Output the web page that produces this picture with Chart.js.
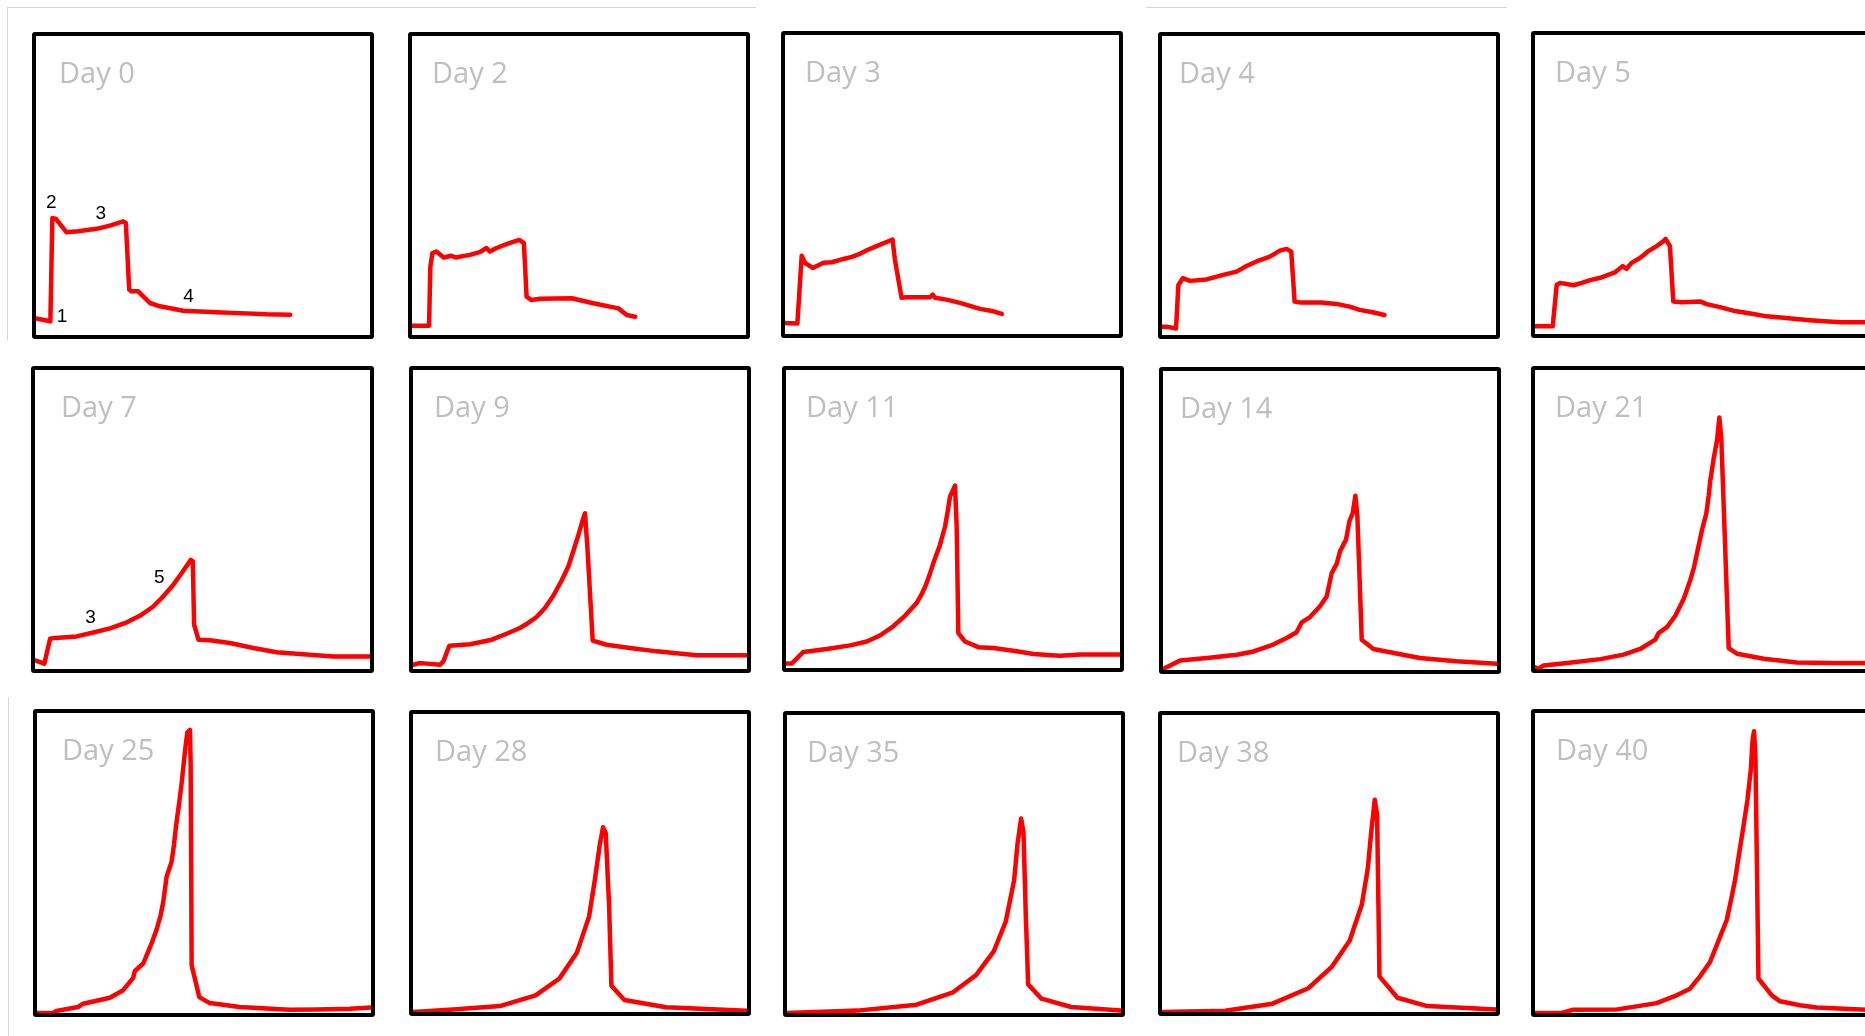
<!DOCTYPE html>
<html>
<head>
<meta charset="utf-8">
<title>Signal by day</title>
<script src="https://cdn.jsdelivr.net/npm/chart.js@4.4.0/dist/chart.umd.min.js"></script>
<style>
    html, body { margin: 0; padding: 0; background: #fff; }
    body { width: 1865px; height: 1036px; overflow: hidden; position: relative; font-family: "Open Sans", sans-serif; }
    .panel { position: absolute; box-sizing: border-box; border: 4px solid #000; border-radius: 3px; background: #fff; }
    .panel canvas { position: absolute; left: 0; top: 0; }
    .day { position: absolute; font-size: 29px; line-height: 29px; color: #bfbfbf; white-space: nowrap; }
    .mark { position: absolute; font-family: "Liberation Sans", Arial, sans-serif; font-size: 19px; line-height: 19px; color: #000; transform: translate(-50%, -50%); }
    .rule { position: absolute; background: #d6d6d6; }
</style>
</head>
<body>
<script>
// DATA: [time, signal] pairs, both on a 0-100 scale
const dayLabels = ["Day 0", "Day 2", "Day 3", "Day 4", "Day 5",
                   "Day 7", "Day 9", "Day 11", "Day 14", "Day 21",
                   "Day 25", "Day 28", "Day 35", "Day 38", "Day 40"];

const day0 = [[0,5.5],[4.3,4.6],[4.9,39.1],[5.9,38.9],[9.1,34.4],[12.6,34.7],[18.1,35.5],[22.1,36.6],[26.1,38.0],[26.9,37.5],
    [27.9,15.2],[28.6,14.6],[30.6,14.6],[34.1,10.7],[37.1,9.6],[44.1,8.1],[49.1,7.9],[54.1,7.6],[59.1,7.4],[69.1,6.9],[76.1,6.8]];
const day2 = [[0,3.1],[5.1,3.1],[5.5,22.9],[6.1,27.4],[7.3,27.9],[9.5,25.9],[11.8,26.5],[13.2,25.9],[14.8,26.3],[17.3,26.8],[20.3,27.7],
    [22.3,29.1],[23.3,27.9],[25.3,29.1],[27.3,30.0],[29.8,31.0],[32.1,31.8],[33.5,30.7],[34.3,12.8],[35.8,11.7],[38.3,12.1],
    [47.8,12.3],[54.3,10.6],[61.8,8.9],[64.3,6.7],[66.8,6.1]];
const day3 = [[0,3.7],[3.7,3.5],[5.0,26.2],[6.0,23.8],[8.3,22.1],[11.5,23.8],[14.0,24.0],[17.5,25.1],[20.0,25.8],[22.0,26.6],
    [24.5,28.0],[27.4,29.4],[30.2,30.7],[32.2,31.6],[32.9,24.9],[34.9,12.1],[36.4,12.3],[43.4,12.3],[44.2,13.2],[44.9,12.1],
    [48.4,11.5],[52.4,10.4],[58.4,8.4],[62.4,7.6],[64.9,6.7]];
const day4 = [[0,2.8],[1.4,2.8],[4.2,2.2],[4.9,16.7],[6.2,19.0],[8.4,18.1],[13.3,18.6],[18.3,20.1],[22.3,21.2],[25.3,23.1],
    [28.3,24.6],[32.3,26.2],[35.3,28.2],[37.3,28.8],[38.7,27.9],[39.7,11.2],[41.2,10.9],[47.7,10.9],[52.2,10.4],[56.2,9.5],
    [59.2,8.4],[63.1,7.6],[66.6,6.7]];
const day5 = [[0,2.6],[5.3,2.6],[6.5,16.5],[7.5,17.1],[11.5,16.3],[14.0,17.1],[16.5,18.0],[19.5,18.8],[21.5,19.6],[23.9,20.6],
    [26.2,22.7],[27.4,21.8],[28.9,23.8],[31.4,25.4],[33.9,27.7],[35.9,29.0],[38.4,31.0],[39.1,31.8],[40.4,29.4],[41.4,10.9],
    [43.9,10.6],[49.4,10.9],[51.4,10.0],[55.4,9.0],[59.4,7.8],[65.4,6.7],[69.4,5.9],[74.4,5.4],[82.3,4.6],[91.3,3.9],[100,3.9]];
const day7 = [[0,2.9],[2.8,1.8],[4.5,10.1],[6.0,10.4],[12.4,10.9],[17.4,12.2],[22.4,13.6],[27.4,15.6],[31.3,17.8],[35.3,20.9],
    [38.3,24.3],[41.3,28.2],[43.8,32.1],[46.5,36.5],[47.1,36.0],[47.5,14.8],[48.8,9.8],[52.2,9.6],[58.2,8.7],[65.2,7.0],
    [72.1,5.6],[79.1,5.0],[89.1,4.2],[100,4.2]];
const day9 = [[0,1.4],[2.1,2.0],[4.1,1.8],[8.1,1.4],[9.1,2.6],[10.9,7.8],[17.1,8.3],[23.6,9.8],[28.0,11.8],[32.0,13.7],
    [34.5,15.4],[37.0,17.4],[39.5,20.4],[42.0,24.5],[44.5,29.6],[46.5,34.3],[48.1,39.8],[49.5,44.8],[50.8,49.8],[51.5,52.1],
    [52.2,40.9],[53.8,9.5],[58.0,8.1],[65.0,7.0],[73.0,5.9],[84.9,4.6],[100,4.6]];
const day11 = [[0,1.5],[1.7,1.5],[5.2,5.4],[12.2,6.4],[19.2,7.6],[24.2,8.9],[28.1,10.9],[32.1,14.0],[35.6,17.5],[39.1,21.8],
    [40.5,24.5],[41.6,27.1],[42.9,31.0],[44.1,35.2],[46.1,41.3],[47.6,47.4],[48.4,52.5],[49.1,57.5],[50.6,61.2],[51.1,47.4],
    [51.6,11.7],[53.6,8.9],[57.6,7.0],[62.1,6.7],[69.1,5.6],[74.1,4.7],[82.0,4.1],[88.0,4.5],[100,4.5]];
const day14 = [[0,0.3],[5.1,3.2],[13.1,4.0],[22.1,5.1],[27.1,6.2],[33.0,8.5],[37.0,10.7],[40.0,12.6],[41.5,15.9],[44.0,17.7],
    [47.0,21.3],[49.0,24.6],[50.5,32.4],[52.0,35.5],[53.0,39.7],[54.8,43.6],[55.8,49.7],[56.8,52.5],[57.6,58.3],[58.2,51.4],
    [59.5,10.1],[63.0,7.0],[69.9,5.5],[76.9,4.0],[87.9,2.9],[100,2.1]];
const day21 = [[0,0.6],[0.9,0],[2.6,1.2],[9.6,2.0],[19.6,3.3],[26.5,4.8],[31.5,6.7],[36.0,9.8],[37.0,12.0],[39.5,14.0],
    [42.0,17.8],[44.5,23.4],[46.5,29.8],[47.6,34.0],[48.5,38.7],[50.0,46.5],[51.3,52.1],[52.0,58.0],[52.5,63.2],[53.5,70.4],
    [54.5,76.5],[55.2,84.1],[55.8,76.5],[58.0,7.0],[60.5,5.1],[68.5,3.4],[78.4,2.2],[89.4,2.0],[100,2.0]];
const day25 = [[0,0],[4.8,0],[5.8,0.7],[12.3,2.0],[13.8,3.1],[21.8,5.1],[25.8,7.6],[28.8,11.7],[29.3,14.0],[31.8,16.5],
    [34.3,23.2],[35.8,27.8],[37.0,32.5],[37.8,37.1],[38.8,45.4],[40.3,50.4],[41.0,56.0],[41.6,62.1],[42.5,69.5],[43.3,76.6],
    [44.3,87.2],[45.0,93.5],[45.8,94.4],[46.0,83.3],[46.3,15.9],[48.6,5.3],[51.7,3.3],[60.7,2.0],[75.7,1.1],[83.7,1.2],
    [93.7,1.4],[100,1.8]];
const day28 = [[0,0],[12.0,0.8],[26.0,2.0],[36.7,5.6],[43.8,11.2],[49.1,20.0],[52.7,32.0],[54.4,44.0],[55.9,56.0],[56.9,62.0],
    [57.7,60.0],[58.7,36.0],[59.4,8.8],[63.3,4.0],[75.8,1.6],[100,0.4]];
const day35 = [[0,0],[21.0,0.8],[38.8,2.8],[49.5,6.8],[56.6,12.7],[61.9,20.7],[65.5,30.7],[68.0,44.6],[69.0,56.6],[70.1,65.3],
    [70.8,60.6],[71.5,32.7],[72.2,9.6],[76.2,4.8],[85.1,2.0],[100,0.8]];
const day38 = [[0,0],[18.9,0.4],[33.1,2.8],[43.8,8.0],[50.9,15.3],[56.2,24.1],[59.8,36.1],[61.6,48.2],[62.6,60.2],[63.7,71.5],
    [64.4,66.3],[64.8,36.1],[65.1,12.0],[70.5,4.8],[79.4,2.0],[100,0.8]];
const day40 = [[0,0],[8.0,0],[11.5,1.1],[24.5,1.2],[30.4,2.2],[36.4,3.3],[42.4,5.9],[46.4,8.1],[49.4,12.2],[52.4,17.0],
    [55.4,25.4],[57.4,31.0],[58.9,38.8],[60.0,45.0],[60.9,51.6],[62.4,62.1],[63.6,71.0],[64.6,81.1],[65.2,91.6],[65.6,93.9],
    [66.0,85.5],[66.9,11.5],[70.9,5.9],[73.4,3.9],[79.3,2.6],[84.3,1.8],[99.3,1.1],[100,1.1]];

// phase numbers written next to the curves
const day0Marks = [["1", 7.8, 6.8], ["2", 4.6, 44.7], ["3", 19.4, 41.1], ["4", 45.7, 13.3]];
const day7Marks = [["3", 16.6, 17.6], ["5", 37.1, 31.2]];

const series = [day0, day2, day3, day4, day5, day7, day9, day11, day14, day21, day25, day28, day35, day38, day40];
const marks = { 0: day0Marks, 5: day7Marks };

// LAYOUT: panel boxes [left, top, width, height] and title inset
const panelBoxes = [
    [32, 32, 342, 307], [408, 32, 342, 307], [781, 31, 342, 307], [1158, 32, 342, 307], [1531, 31, 342, 307],
    [31, 366, 343, 307], [409, 366, 342, 307], [782, 366, 342, 306], [1159, 367, 342, 307], [1531, 366, 342, 307],
    [33, 709, 342, 308], [409, 710, 342, 306], [783, 711, 342, 306], [1158, 711, 342, 305], [1531, 709, 342, 308]
];
const titleInset = [30, 27, 27, 24, 27, 33, 28, 27, 24, 27, 32, 29, 27, 22, 28];

// faint page rules around the grid
const rules = [
    [7, 7, 749, 1], [1146, 7, 361, 1], [7, 7, 1, 333], [8, 697, 1, 339]
];

document.addEventListener("DOMContentLoaded", function () {
    rules.forEach(function (r) {
        var d = document.createElement("div");
        d.className = "rule";
        d.style.cssText = "left:" + r[0] + "px;top:" + r[1] + "px;width:" + r[2] + "px;height:" + r[3] + "px";
        document.body.appendChild(d);
    });
    series.forEach(function (pts, i) {
        drawPanel(i, pts);
    });
});

// FUNCTION FOR ONE DAY PANEL
function drawPanel(i, pts) {
    var box = panelBoxes[i];
    var panel = document.createElement("div");
    panel.className = "panel";
    panel.style.left = box[0] + "px";
    panel.style.top = box[1] + "px";
    panel.style.width = box[2] + "px";
    panel.style.height = box[3] + "px";
    document.body.appendChild(panel);

    var canvas = document.createElement("canvas");
    canvas.width = box[2] - 8;
    canvas.height = box[3] - 8;
    panel.appendChild(canvas);

    var chart = new Chart(canvas.getContext("2d"), {
        type: "line",
        data: {
            datasets: [
                {
                    data: pts.map(function (p) { return { x: p[0], y: p[1] }; }),
                    borderColor: "#ff0000",
                    borderWidth: 4.5,
                    pointRadius: 0,
                    tension: 0,
                    borderJoinStyle: "round",
                    borderCapStyle: "round",
                    fill: false,
                },
            ],
        },
        options: {
            responsive: false,
            animation: false,
            devicePixelRatio: 1,
            layout: { padding: 0 },
            plugins: { legend: { display: false }, tooltip: { enabled: false } },
            scales: {
                x: { type: "linear", min: 0, max: 100, display: false },
                y: { type: "linear", min: 0, max: 100, display: false },
            },
        },
    });

    var title = document.createElement("div");
    title.className = "day";
    title.textContent = dayLabels[i];
    title.style.left = (titleInset[i] - 7) + "px";
    title.style.top = "21px";
    panel.appendChild(title);

    (marks[i] || []).forEach(function (m) {
        var s = document.createElement("span");
        s.className = "mark";
        s.textContent = m[0];
        s.style.left = chart.scales.x.getPixelForValue(m[1]) + "px";
        s.style.top = chart.scales.y.getPixelForValue(m[2]) + "px";
        panel.appendChild(s);
    });
}
// FUNCTION FOR ONE DAY PANEL
</script>
</body>
</html>
